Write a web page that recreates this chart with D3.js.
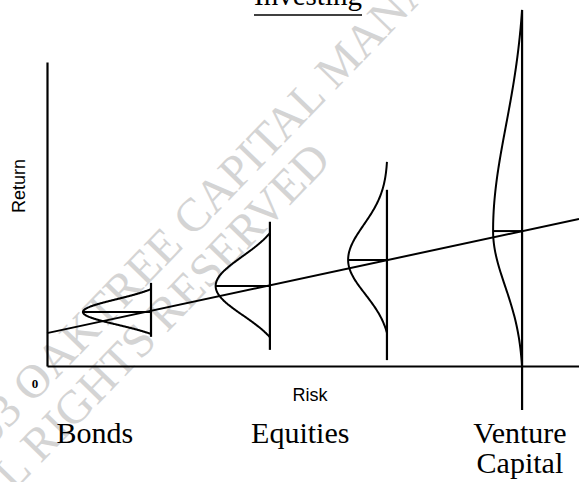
<!DOCTYPE html>
<html><head><meta charset="utf-8">
<script src="https://cdn.jsdelivr.net/npm/d3@7"></script>
<style>body{margin:0;background:#fff}svg{display:block}</style>
</head><body><svg id="c" width="579" height="482"></svg>
<script>
// ---- data (risk on x, return on y, arbitrary units) ----
const distRisk     = [1.955, 4.19, 6.39, 8.93];
const distMean     = [1.74, 2.58, 3.42, 4.35];
const distPeak     = [1.28, 1.02, 0.73, 0.545];
const distSdUp     = [0.41, 0.95, 1.13, 3.39];
const distSdDown   = [0.41, 0.95, 1.10, 1.77];
const distTailUp   = [0.74, 1.71, 3.16, 7.13];
const distTailDown = [0.71, 1.65, 2.35, 4.39];
const stemTop      = [2.68, 4.65, 5.68, 11.48];
const stemBottom   = [0.94, 0.52, 0.19, -1.42];
const lineRisk     = [0, 10];
const lineReturn   = [1.06, 4.74];
const categoryLabels = ["Bonds", "Equities", "Venture Capital"];
const labelRisk      = [0.9, 4.76, 8.89];
const titleText = "Investing";
const watermark = ["©2003 OAKTREE CAPITAL MANAGEMENT", "ALL RIGHTS RESERVED"];

const svg = d3.select("#c");
const x = d3.scaleLinear([0, 10], [47, 579]);
const y = d3.scaleLinear([0, 9.8], [366, 62]);

// watermark
const wm = svg.append("g").attr("fill", "#d4d4d4")
  .style("font-family", "'Liberation Serif','Times New Roman',serif").style("font-size", "47px");
wm.append("text").attr("transform", "translate(-66,506) rotate(-46)").text(watermark[0]);
wm.append("text").attr("transform", "translate(-30,537) rotate(-46)").text(watermark[1]);

// title
svg.append("text").attr("x", 308).attr("y", 5).attr("text-anchor", "middle")
  .style("font-family", "'Liberation Serif','Times New Roman',serif").style("font-size", "29px")
  .text(titleText);
svg.append("line").attr("x1", 254).attr("x2", 362).attr("y1", 15).attr("y2", 15)
  .attr("stroke", "#000").attr("stroke-width", 1.5);

// axes
svg.append("g").attr("transform", `translate(${x(0)},0)`)
  .call(d3.axisLeft(y).tickValues([]).tickSizeOuter(0));
svg.append("g").attr("transform", `translate(0,${y(0)})`)
  .call(d3.axisBottom(x).tickValues([]).tickSizeOuter(0));
svg.selectAll(".domain").attr("stroke", "#000").attr("stroke-width", 2.2);

// risk-return line
svg.append("path")
  .datum(d3.zip(lineRisk, lineReturn))
  .attr("d", d3.line().x(d => x(d[0])).y(d => y(d[1])))
  .attr("fill", "none").attr("stroke", "#000").attr("stroke-width", 2);

// distributions
const line = d3.line().x(d => x(d[0])).y(d => y(d[1])).curve(d3.curveBasis);
distRisk.forEach((r, i) => {
  const m = distMean[i];
  const pts = [];
  const n = 120;
  for (let k = 0; k <= n; k++) {
    const dv = -distTailDown[i] + (distTailUp[i] + distTailDown[i]) * k / n;
    const sd = dv >= 0 ? distSdUp[i] : distSdDown[i];
    const end = dv >= 0 ? distTailUp[i] : distTailDown[i];
    const g = Math.exp(-dv * dv / (2 * sd * sd));
    const ge = Math.exp(-end * end / (2 * sd * sd));
    const w = distPeak[i] * Math.max(0, (g - ge) / (1 - ge));
    pts.push([r - w, m + dv]);
  }
  svg.append("path").attr("d", line(pts))
    .attr("fill", "none").attr("stroke", "#000").attr("stroke-width", 2);
  svg.append("line").attr("x1", x(r)).attr("x2", x(r))
    .attr("y1", y(stemTop[i])).attr("y2", y(stemBottom[i]))
    .attr("stroke", "#000").attr("stroke-width", 2.2);
  svg.append("line").attr("x1", x(r - distPeak[i])).attr("x2", x(r))
    .attr("y1", y(m)).attr("y2", y(m))
    .attr("stroke", "#000").attr("stroke-width", 2);
});

// axis labels
svg.append("text").attr("x", 35).attr("y", 388).attr("text-anchor", "middle")
  .style("font-family", "'Liberation Serif',serif").style("font-weight", "bold").style("font-size", "13px")
  .text("0");
svg.append("text").attr("x", 310).attr("y", 401).attr("text-anchor", "middle")
  .style("font-family", "'Liberation Sans',Arial,sans-serif").style("font-size", "18px")
  .text("Risk");
svg.append("text").attr("transform", "translate(25,186) rotate(-90)").attr("text-anchor", "middle")
  .style("font-family", "'Liberation Sans',Arial,sans-serif").style("font-size", "18px")
  .text("Return");

// category labels
categoryLabels.forEach((lab, i) => {
  const words = lab === "Venture Capital" ? ["Venture", "Capital"] : [lab];
  const tx = svg.append("text").attr("text-anchor", "middle")
    .style("font-family", "'Liberation Serif','Times New Roman',serif").style("font-size", "30px");
  words.forEach((w, j) => {
    tx.append("tspan").attr("x", x(labelRisk[i])).attr("y", 443 + j * 30).text(w);
  });
});
</script></body></html>
